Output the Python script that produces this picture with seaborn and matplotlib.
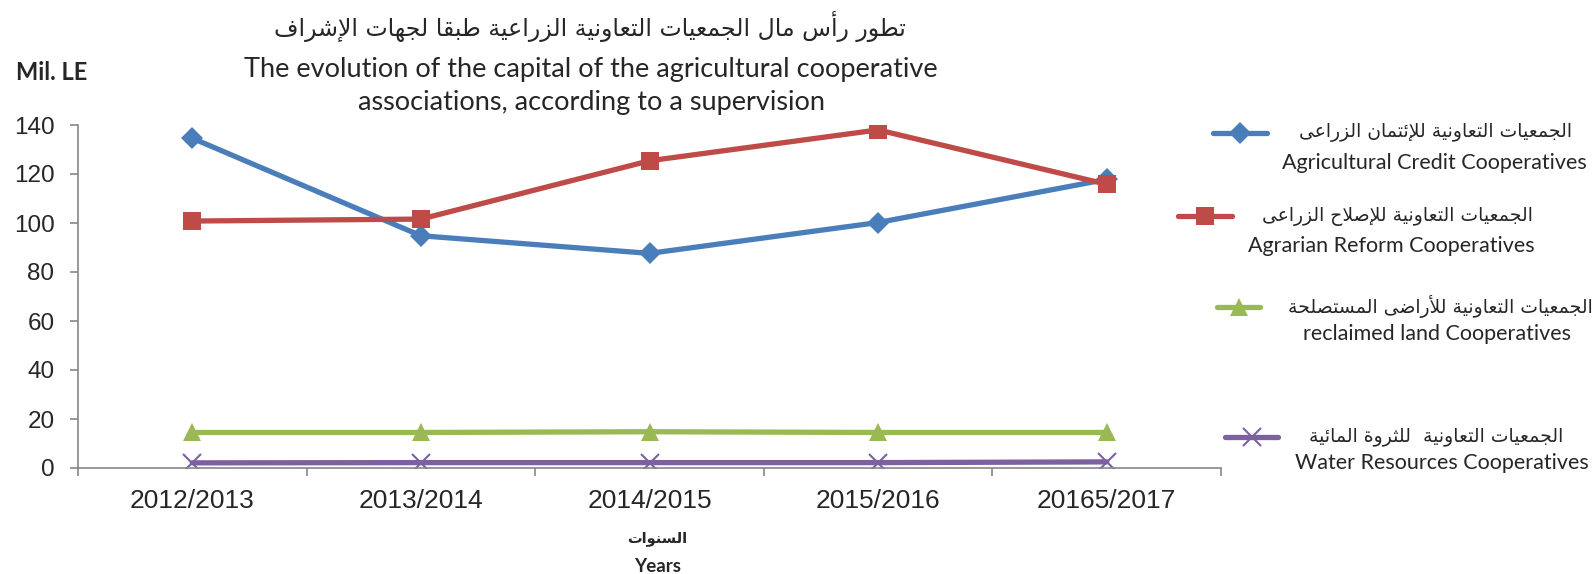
import pandas as pd
import matplotlib.pyplot as plt
from matplotlib.lines import Line2D
import seaborn as sns

# data (Mil. LE)
years = ["2012/2013", "2013/2014", "2014/2015", "2015/2016", "20165/2017"]
credit = [134.6, 94.8, 87.6, 100.2, 117.8]
reform = [100.8, 101.6, 125.4, 138.0, 115.8]
reclaimed = [14.5, 14.5, 14.8, 14.5, 14.5]
water = [2.1, 2.2, 2.2, 2.2, 2.5]

ar_names = ["الجمعيات التعاونية للإئتمان الزراعى",
            "الجمعيات التعاونية للإصلاح الزراعى",
            "الجمعيات التعاونية للأراضى المستصلحة",
            "الجمعيات التعاونية  للثروة المائية"]
en_names = ["Agricultural Credit Cooperatives", "Agrarian Reform Cooperatives",
            "reclaimed land Cooperatives", "Water Resources Cooperatives"]
colors = ["#4A7EBB", "#BE4B48", "#98B954", "#7D60A0"]
markers = ["D", "s", "^", "x"]
msizes = [11, 13, 13, 13]

title_ar = "تطور رأس مال الجمعيات التعاونية الزراعية طبقا لجهات الإشراف"
title_en = "The evolution of the capital of the agricultural cooperative\nassociations, according to a supervision"
xlabel_ar = "السنوات"

# matplotlib has no arabic shaping, so pick the presentation forms by hand
AR_FORMS = {
    'ء': (0xFE80, 1), 'آ': (0xFE81, 2), 'أ': (0xFE83, 2), 'ؤ': (0xFE85, 2), 'إ': (0xFE87, 2),
    'ئ': (0xFE89, 4), 'ا': (0xFE8D, 2), 'ب': (0xFE8F, 4), 'ة': (0xFE93, 2), 'ت': (0xFE95, 4),
    'ث': (0xFE99, 4), 'ج': (0xFE9D, 4), 'ح': (0xFEA1, 4), 'خ': (0xFEA5, 4), 'د': (0xFEA9, 2),
    'ذ': (0xFEAB, 2), 'ر': (0xFEAD, 2), 'ز': (0xFEAF, 2), 'س': (0xFEB1, 4), 'ش': (0xFEB5, 4),
    'ص': (0xFEB9, 4), 'ض': (0xFEBD, 4), 'ط': (0xFEC1, 4), 'ظ': (0xFEC5, 4), 'ع': (0xFEC9, 4),
    'غ': (0xFECD, 4), 'ف': (0xFED1, 4), 'ق': (0xFED5, 4), 'ك': (0xFED9, 4), 'ل': (0xFEDD, 4),
    'م': (0xFEE1, 4), 'ن': (0xFEE5, 4), 'ه': (0xFEE9, 4), 'و': (0xFEED, 2), 'ى': (0xFEEF, 2),
    'ي': (0xFEF1, 4),
}
LAM_ALEF = {'آ': 0xFEF5, 'أ': 0xFEF7, 'إ': 0xFEF9, 'ا': 0xFEFB}


def joins(a, b):
    return a in AR_FORMS and b in AR_FORMS and AR_FORMS[a][1] == 4 and AR_FORMS[b][1] > 1


def shape(text):
    out = []
    i = 0
    while i < len(text):
        c = text[i]
        if c not in AR_FORMS:
            out.append(c)
            i += 1
            continue
        prev = i > 0 and joins(text[i - 1], c)
        if c == 'ل' and i + 1 < len(text) and text[i + 1] in LAM_ALEF:
            out.append(chr(LAM_ALEF[text[i + 1]] + (1 if prev else 0)))
            i += 2
            continue
        base, forms = AR_FORMS[c]
        nxt = i + 1 < len(text) and joins(c, text[i + 1])
        if forms == 1:
            k = 0
        elif prev and nxt:
            k = 3
        elif nxt:
            k = 2
        elif prev:
            k = 1
        else:
            k = 0
        out.append(chr(base + k))
        i += 1
    return "".join(out[::-1])


sns.set_style("white")
plt.rcParams["font.family"] = ["Liberation Sans", "DejaVu Sans"]

W, H = 1595, 574
fig = plt.figure(figsize=(W / 100, H / 100), dpi=100)
ax = fig.add_axes([78 / W, 1 - 468 / H, (1221 - 78) / W, (468 - 125) / H])

series = [credit, reform, reclaimed, water]
for vals, col, mk, ms in zip(series, colors, markers, msizes):
    df = pd.DataFrame({"year": years, "value": vals})
    sns.lineplot(data=df, x="year", y="value", ax=ax, color=col, lw=3.8,
                 marker=mk, markersize=ms, markeredgecolor=col,
                 markeredgewidth=1.5 if mk == "x" else 0, sort=False)

ax.set_xlim(-0.5, len(years) - 0.5)
ax.set_ylim(0, 140)
ax.set_yticks(range(0, 141, 20))
ax.set_xticks(range(len(years)))
ax.set_xticks([i - 0.5 for i in range(len(years) + 1)], minor=True)
ax.set_xticklabels(years)
ax.tick_params(axis="x", which="major", length=0, pad=15, labelsize=19)
ax.tick_params(axis="x", which="minor", length=6, width=1.2, color="#868686", direction="out", bottom=True)
ax.tick_params(axis="y", length=6, width=1.2, color="#868686", direction="out", pad=11, labelsize=17.5, left=True)
for s in ["top", "right"]:
    ax.spines[s].set_visible(False)
for s in ["left", "bottom"]:
    ax.spines[s].set_color("#868686")
    ax.spines[s].set_linewidth(1.2)
ax.set_xlabel("")
ax.set_ylabel("")


def fx(x):
    return x / W


def fy(y):
    return 1 - y / H


# titles
fig.text(fx(590), fy(27), shape(title_ar), ha="center", va="center", fontsize=17, family="DejaVu Sans")
fig.text(fx(591), fy(86), title_en, ha="center", va="center", fontsize=19.5, family="Lato", linespacing=1.4)
fig.text(fx(52), fy(72), "Mil. LE", ha="center", va="center", fontsize=17, family="Lato", weight="bold")

# x axis title
fig.text(fx(657), fy(538), shape(xlabel_ar), ha="center", va="center", fontsize=10.5, family="DejaVu Sans", weight="bold")
fig.text(fx(658), fy(566), "Years", ha="center", va="center", fontsize=13.5, family="Lato", weight="bold")

# legend drawn like the excel one: line + marker, arabic name, english name below
leg = [
    # line x0, x1, y, arabic right edge, english centre, english y
    (1213, 1267, 133, 1572, 1434, 163),
    (1178, 1232, 216, 1533, 1391, 246),
    (1217, 1260, 307, 1593, 1437, 334),
    (1225, 1278, 437, 1563, 1442, 463),
]
for (x0, x1, y, xr, xc, ye), col, mk, ms, ar, en in zip(leg, colors, markers, msizes, ar_names, en_names):
    fig.add_artist(Line2D([fx(x0), fx(x1)], [fy(y), fy(y)], transform=fig.transFigure,
                          color=col, lw=3.8, solid_capstyle="round"))
    fig.add_artist(Line2D([fx((x0 + x1) / 2)], [fy(y)], transform=fig.transFigure,
                          color=col, marker=mk, markersize=ms, markeredgecolor=col,
                          markeredgewidth=1.5 if mk == "x" else 0, lw=0))
    fig.text(fx(xr), fy(y), shape(ar), ha="right", va="center", fontsize=13.5, family="DejaVu Sans")
    fig.text(fx(xc), fy(ye), en, ha="center", va="center", fontsize=15.5, family="Lato")

fig.savefig("out.png", dpi=100)
